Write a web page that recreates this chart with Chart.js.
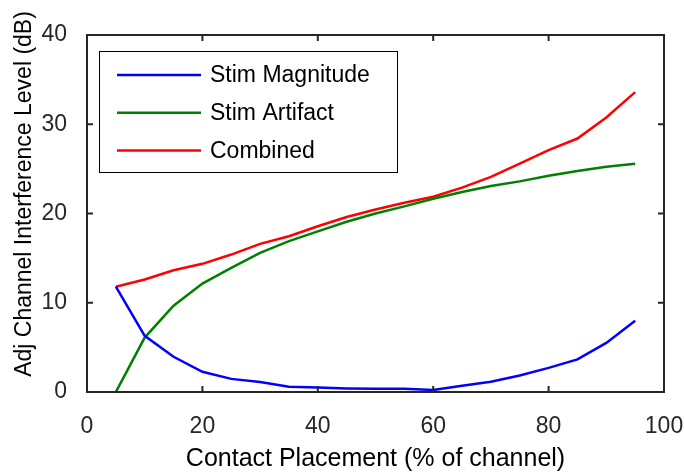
<!DOCTYPE html>
<html>
<head>
<meta charset="utf-8">
<script src="https://cdn.jsdelivr.net/npm/chart.js@4.4.1/dist/chart.umd.min.js"></script>
<style>
  html, body { margin: 0; padding: 0; background: #fff; }
  #wrap { width: 684px; height: 475px; }
</style>
</head>
<body>
<div id="wrap"><canvas id="c" width="684" height="475"></canvas></div>
<script>
// contact placement, % of channel
var placement = [5, 10, 15, 20, 25, 30, 35, 40, 45, 50, 55, 60, 65, 70, 75, 80, 85, 90, 95];
var stimMagnitude = [11.8, 6.3, 3.95, 2.26, 1.47, 1.13, 0.6, 0.5, 0.4, 0.37, 0.37, 0.22, 0.71, 1.16, 1.84, 2.7, 3.65, 5.5, 7.97];
var stimArtifact = [0, 6.1, 9.66, 12.15, 13.9, 15.6, 16.9, 18.0, 19.07, 20.0, 20.8, 21.65, 22.4, 23.07, 23.6, 24.23, 24.75, 25.24, 25.58];
var combined = [11.8, 12.6, 13.64, 14.36, 15.4, 16.6, 17.45, 18.57, 19.6, 20.45, 21.2, 21.87, 22.9, 24.1, 25.6, 27.1, 28.4, 30.75, 33.6];
var xTicks = [0, 20, 40, 60, 80, 100];
var yTicks = [0, 10, 20, 30, 40];
var yTitle = 'Adj Channel Interference Level (dB)';

var FONT = '"Liberation Sans", Arial, sans-serif';
var AXIS = '#262626';

function pts(ys){
	return placement.map(function(x, i){ return {x: x, y: ys[i]}; });
}
function ds(label, ys, color){
	return {label: label, data: pts(ys), borderColor: color, backgroundColor: color,
		borderWidth: 2.5, pointRadius: 0, fill: false, tension: 0};
}

// box, inward ticks, y title and the legend, MATLAB style
var boxPlugin = {
	id: 'box',
	afterDraw: function(chart){
		var ctx = chart.ctx, a = chart.chartArea;
		var xs = chart.scales.x, ys = chart.scales.y;
		ctx.save();
		ctx.strokeStyle = AXIS;
		ctx.lineWidth = 2;
		ctx.strokeRect(a.left, a.top, a.right - a.left, a.bottom - a.top);
		ctx.beginPath();
		xTicks.forEach(function(v){
			var px = xs.getPixelForValue(v);
			ctx.moveTo(px, a.bottom); ctx.lineTo(px, a.bottom - 6);
			ctx.moveTo(px, a.top); ctx.lineTo(px, a.top + 6);
		});
		yTicks.forEach(function(v){
			var py = ys.getPixelForValue(v);
			ctx.moveTo(a.left, py); ctx.lineTo(a.left + 6, py);
			ctx.moveTo(a.right, py); ctx.lineTo(a.right - 6, py);
		});
		ctx.stroke();

		// y axis title (sits a bit above the axis centre in the original)
		ctx.save();
		ctx.translate(25, 194);
		ctx.rotate(-Math.PI / 2);
		ctx.font = '23px ' + FONT;
		ctx.fillStyle = '#000';
		ctx.textAlign = 'center';
		ctx.textBaseline = 'middle';
		ctx.fillText(yTitle, 0, 0);
		ctx.restore();

		// legend
		var lx = a.left + 12, ly = a.top + 16, lw = 298, lh = 121;
		ctx.fillStyle = '#fff';
		ctx.fillRect(lx, ly, lw, lh);
		ctx.strokeStyle = '#000';
		ctx.lineWidth = 1;
		ctx.strokeRect(lx + 0.5, ly + 0.5, lw, lh);
		ctx.font = '23px ' + FONT;
		ctx.textBaseline = 'middle';
		chart.data.datasets.forEach(function(d, i){
			var y = ly + 24 + i * 37.7;
			ctx.strokeStyle = d.borderColor;
			ctx.lineWidth = 2.5;
			ctx.beginPath();
			ctx.moveTo(lx + 18, y); ctx.lineTo(lx + 102, y);
			ctx.stroke();
			ctx.fillStyle = '#000';
			ctx.fillText(d.label, lx + 111, y + 1);
		});
		ctx.restore();
	}
};

new Chart(document.getElementById('c').getContext('2d'), {
	type: 'line',
	data: {
		datasets: [
			ds('Stim Magnitude', stimMagnitude, '#0000ff'),
			ds('Stim Artifact', stimArtifact, '#008000'),
			ds('Combined', combined, '#ff0000')
		]
	},
	options: {
		responsive: false,
		animation: false,
		layout: {padding: {left: 0, top: 35, right: 20, bottom: 0}},
		plugins: {legend: {display: false}, tooltip: {enabled: false}},
		scales: {
			x: {
				type: 'linear', min: 0, max: 100,
				afterBuildTicks: function(s){ s.ticks = xTicks.map(function(v){ return {value: v}; }); },
				afterFit: function(s){ s.height = 83; s.paddingLeft = 0; s.paddingRight = 0; },
				grid: {display: false},
				border: {display: false},
				ticks: {color: AXIS, font: {family: FONT, size: 23}, padding: 13, maxRotation: 0},
				title: {display: true, text: 'Contact Placement (% of channel)', color: '#000',
					font: {family: FONT, size: 25}, padding: {top: 3, bottom: 1}}
			},
			y: {
				min: 0, max: 40,
				afterBuildTicks: function(s){ s.ticks = yTicks.map(function(v){ return {value: v}; }); },
				afterFit: function(s){ s.width = 87; s.paddingTop = 0; s.paddingBottom = 0; },
				grid: {display: false},
				border: {display: false},
				ticks: {color: AXIS, font: {family: FONT, size: 23}, padding: 12},
				title: {display: false}
			}
		}
	},
	plugins: [boxPlugin]
});
</script>
</body>
</html>
